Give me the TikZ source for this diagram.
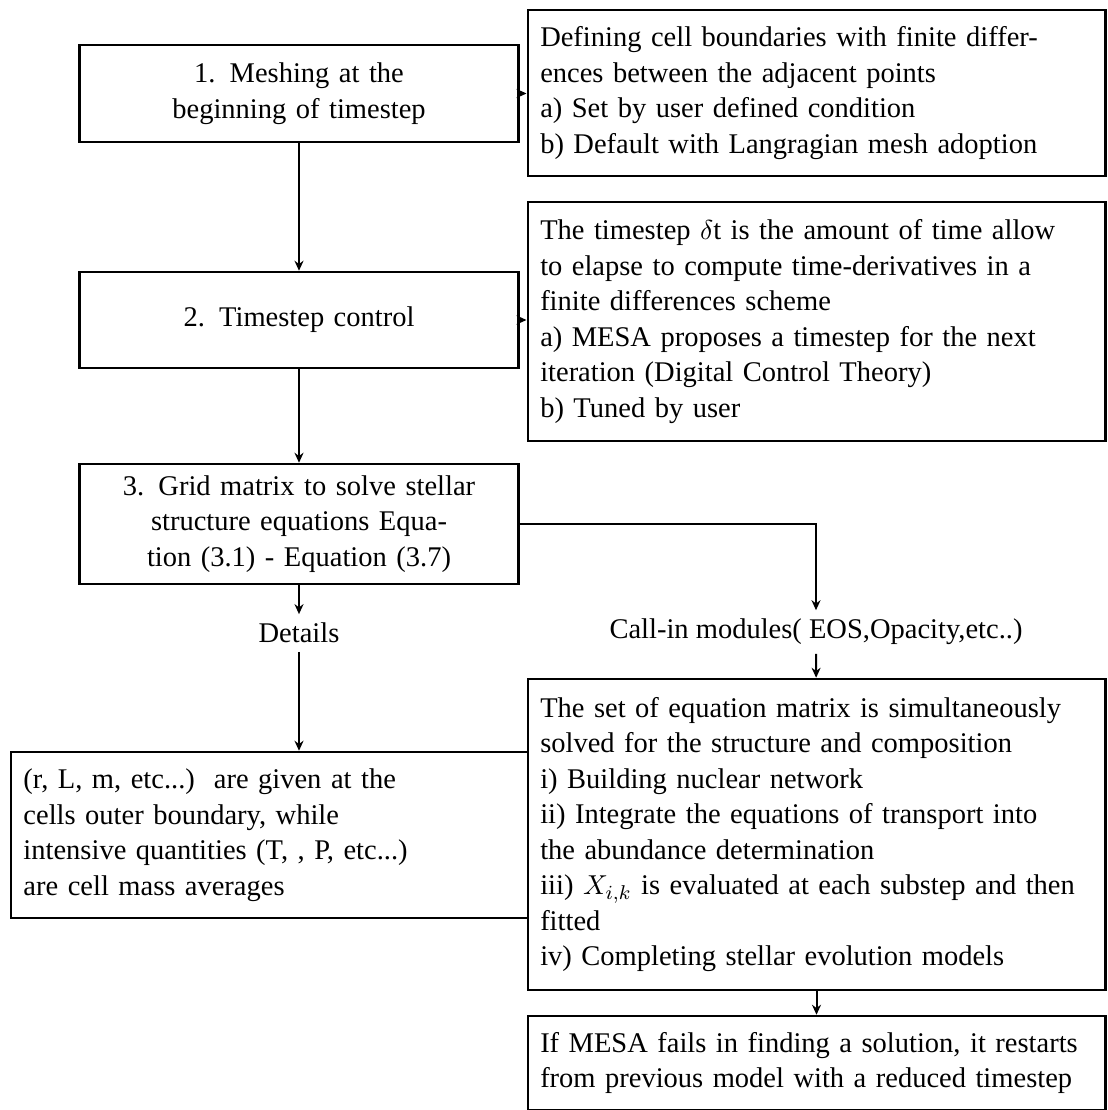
\documentclass[tikz,border=0pt]{standalone}
\usepackage{fontspec}
\setmainfont{Liberation Serif}
\usetikzlibrary{arrows.meta}

\begin{document}
\begin{tikzpicture}[x=0.4pt,y=-0.4pt,
	box/.style={draw, line width=1pt, inner xsep=5pt, font=\fontsize{11.4}{14.2}\selectfont},
	stepbox/.style={box, align=center, text width=165.6pt},
	notebox/.style={box, align=left, text width=221pt},
	plain/.style={font=\fontsize{11.4}{14.2}\selectfont},
	arr/.style={-{Stealth[length=4pt,width=3.6pt]}, line width=0.8pt}]
	\useasboundingbox (0,0) rectangle (1107,1110);
	% main steps
	\node[stepbox, minimum height=38.8pt] (mesh) at (299,93.5) {1.\enspace Meshing at the\\ beginning of timestep};
	\node[stepbox, minimum height=38.4pt] (tstep) at (299,320) {2.\enspace Timestep control};
	\node[stepbox, minimum height=48pt] (grid) at (299,524) {3.\enspace Grid matrix to solve stellar\\ structure equations Equa-\\ tion (3.1) - Equation (3.7)};
	\node[plain] (details) at (299,633) {Details};
	\node[plain] (callin) at (816,632) {Call-in modules( EOS,Opacity,etc..)};
	% notes on the right
	\node[notebox, minimum height=66.4pt] (cellbnd) at (816.5,93) {Defining cell boundaries with finite differ-\\ ences between the adjacent points\\ a) Set by user defined condition\\ b) Default with Langragian mesh adoption};
	\node[notebox, minimum height=95.6pt] (tsdef) at (816.5,321.5) {The timestep $\delta$t is the amount of time allow\\ to elapse to compute time-derivatives in a\\ finite differences scheme\\ a) MESA proposes a timestep for the next\\ iteration (Digital Control Theory)\\ b) Tuned by user};
	\node[notebox, minimum height=124.4pt] (solve) at (816.5,834.5) {The set of equation matrix is simultaneously\\ solved for the structure and composition\\ i) Building nuclear network\\ ii) Integrate the equations of transport into\\ the abundance determination\\ iii) $X_{i,k}$ is evaluated at each substep and then\\ fitted\\ iv) Completing stellar evolution models};
	\node[notebox, minimum height=37.6pt] (restart) at (816.5,1063) {If MESA fails in finding a solution, it restarts\\ from previous model with a reduced timestep};
	\node[box, align=left, text width=196.8pt, minimum height=66.4pt] (cellq) at (269.5,835) {(r, L, m, etc...)\ \ are given at the\\ cells outer boundary, while\\ intensive quantities (T, , P, etc...)\\ are cell mass averages};
	% connectors
	\draw[arr] (mesh.east) -- (mesh.east -| cellbnd.west);
	\draw[arr] (mesh) -- (tstep);
	\draw[arr] (tstep.east) -- (tstep.east -| tsdef.west);
	\draw[arr] (tstep) -- (grid);
	\draw[arr] (grid) -- (details);
	\draw[arr] (grid.east) -| (callin.north);
	\draw[arr] (details.south) -- (details.south |- cellq.north);
	\draw[arr] (callin) -- (solve);
	\draw[arr] (solve) -- (restart);
\end{tikzpicture}
\end{document}
